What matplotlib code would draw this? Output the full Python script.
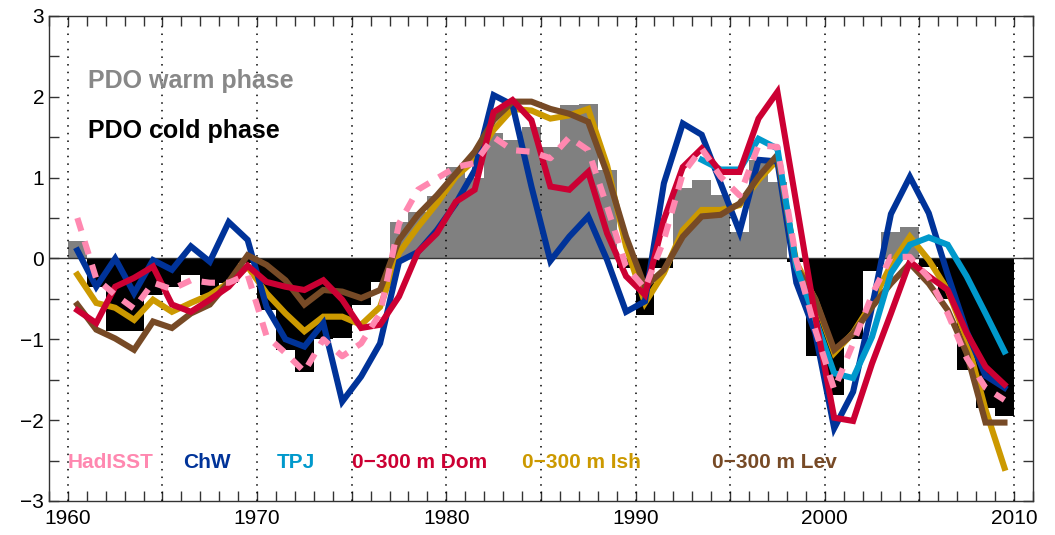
import numpy as np
import matplotlib
matplotlib.use("Agg")
import matplotlib.pyplot as plt
from matplotlib.ticker import MultipleLocator

matplotlib.rcParams['font.family'] = ['Liberation Sans', 'DejaVu Sans']

years = np.arange(1960, 2010)

# annual PDO index (bars)
pdo = [0.21, -0.35, -0.9, -0.9, -0.45, -0.35, -0.2, -0.45, -0.3, -0.05,
       -0.64, -1.13, -1.4, -1.0, -0.98, -0.57, -0.29, 0.45, 0.58, 0.77,
       1.13, 0.99, 1.55, 1.46, 1.63, 1.38, 1.9, 1.91, 1.09, -0.12,
       -0.7, -0.12, 0.87, 0.97, 0.78, 0.33, 1.22, 0.95, -0.04, -1.21,
       -1.69, -1.0, -0.16, 0.33, 0.39, -0.1, -0.5, -1.38, -1.85, -1.95]

hadisst = [0.5, -0.25, -0.45, -0.62, -0.3, -0.38, -0.27, -0.3, -0.3, -0.2,
           -0.96, -1.17, -1.4, -1.0, -1.21, -1.05, -0.68, 0.43, 0.85, 0.99,
           1.13, 1.18, 1.5, 1.34, 1.32, 1.24, 1.5, 1.34, 0.64, -0.1,
           -0.37, 0.23, 1.05, 1.36, 1.01, 0.78, 1.4, 1.38, -0.02, -0.88,
           -1.62, -1.05, -0.45, 0.02, 0.02, -0.24, -0.68, -1.23, -1.6, -1.75]

chw = [0.1, -0.35, 0.0, -0.43, -0.02, -0.14, 0.15, -0.04, 0.45, 0.23,
       -0.6, -1.0, -1.09, -0.8, -1.77, -1.46, -1.05, -0.04, 0.08, 0.35,
       0.68, 1.09, 2.02, 1.9, 0.89, -0.03, 0.27, 0.52, -0.02, -0.66,
       -0.53, 0.93, 1.67, 1.53, 0.93, 0.33, 1.22, 1.2, -0.3, -0.92,
       -2.1, -1.65, -0.6, 0.55, 1.01, 0.56, -0.2, -0.9, -1.45, -1.6]

tpj_years = np.arange(1993, 2010)
tpj = [1.22, 1.1, 1.1, 1.48, 1.36, -0.1, -0.75, -1.42, -1.48, -0.97,
       -0.18, 0.17, 0.26, 0.17, -0.22, -0.68, -1.15]

dom = [-0.64, -0.8, -0.35, -0.24, -0.1, -0.57, -0.66, -0.51, -0.35, -0.09,
       -0.29, -0.35, -0.39, -0.27, -0.51, -0.86, -0.82, -0.47, 0.08, 0.31,
       0.7, 0.85, 1.81, 1.96, 1.71, 0.89, 0.85, 1.07, 0.31, -0.22,
       -0.45, 0.48, 1.13, 1.36, 1.07, 1.07, 1.73, 2.06, 0.68, -0.72,
       -1.97, -2.01, -1.3, -0.68, -0.04, -0.22, -0.39, -0.92, -1.34, -1.56]

ish = [-0.2, -0.55, -0.61, -0.76, -0.51, -0.66, -0.55, -0.45, -0.3, -0.1,
       -0.43, -0.68, -0.9, -0.72, -0.72, -0.82, -0.6, 0.07, 0.39, 0.68,
       1.01, 1.22, 1.59, 1.85, 1.83, 1.73, 1.77, 1.85, 1.15, 0.15,
       -0.55, -0.18, 0.35, 0.6, 0.6, 0.66, 0.97, 1.22, -0.05, -0.51,
       -1.17, -0.92, -0.55, -0.08, 0.27, -0.02, -0.39, -1.0, -1.87, -2.59]

lev = [-0.57, -0.88, -0.99, -1.13, -0.78, -0.86, -0.68, -0.57, -0.29, 0.04,
       -0.08, -0.27, -0.57, -0.39, -0.41, -0.49, -0.39, 0.23, 0.54, 0.78,
       1.05, 1.32, 1.71, 1.94, 1.94, 1.85, 1.79, 1.69, 1.05, 0.27,
       -0.35, -0.14, 0.27, 0.52, 0.54, 0.68, 1.01, 1.28, -0.1, -0.5,
       -1.13, -0.93, -0.6, -0.31, -0.06, -0.31, -0.64, -1.17, -2.03, -2.03]

C_HAD = '#ff88b0'
C_CHW = '#003399'
C_TPJ = '#0099cc'
C_DOM = '#cc0033'
C_ISH = '#cc9900'
C_LEV = '#774a26'

fig = plt.figure(figsize=(10.55, 5.35), dpi=100)
ax = fig.add_axes([0.0464, 0.0636, 0.9326, 0.9066])

bar_colors = ['#808080' if v > 0 else 'black' for v in pdo]
ax.bar(years, pdo, width=1.0, align='edge', color=bar_colors, linewidth=0, zorder=1)

for x in range(1960, 2011, 5):
    ax.axvline(x, color='black', linestyle=(0, (1, 4)), linewidth=1.1, zorder=2)
ax.axhline(0, color='#333333', linewidth=1.0, zorder=2)

lw = 4.4
mid = years + 0.5
ax.plot(mid, ish, color=C_ISH, lw=lw, solid_joinstyle='miter', zorder=3)
ax.plot(mid, chw, color=C_CHW, lw=lw, solid_joinstyle='miter', zorder=4)
ax.plot(mid, lev, color=C_LEV, lw=lw, solid_joinstyle='miter', zorder=5)
ax.plot(tpj_years + 0.5, tpj, color=C_TPJ, lw=lw, solid_joinstyle='miter', zorder=6)
ax.plot(mid, dom, color=C_DOM, lw=lw, solid_joinstyle='miter', zorder=7)
ax.plot(mid, hadisst, color=C_HAD, lw=lw, linestyle=(0, (2.2, 1.8)), zorder=8)

ax.set_xlim(1959, 2011)
ax.set_ylim(-3, 3)
ax.xaxis.set_major_locator(MultipleLocator(10))
ax.xaxis.set_minor_locator(MultipleLocator(1))
ax.yaxis.set_major_locator(MultipleLocator(1))
ax.yaxis.set_minor_locator(MultipleLocator(0.5))
ax.tick_params(which='both', direction='in', top=True, right=True, length=7,
               width=1.0, color='#333333', labelsize=15)
ax.tick_params(axis='x', pad=6)
for s in ax.spines.values():
    s.set_color('#333333')
    s.set_linewidth(1.0)

ax.text(1961.05, 2.2, 'PDO warm phase', color='#888888', fontsize=18,
        fontweight='bold', va='center', ha='left')
ax.text(1961.05, 1.58, 'PDO cold phase', color='black', fontsize=18,
        fontweight='bold', va='center', ha='left')

labels = ['HadISST', 'ChW', 'TPJ', '0\u2212300 m Dom', '0\u2212300 m Ish', '0\u2212300 m Lev']
label_x = [1960.0, 1966.1, 1971.05, 1975.0, 1984.0, 1994.05]
label_c = [C_HAD, C_CHW, C_TPJ, C_DOM, C_ISH, C_LEV]
for t, x, c in zip(labels, label_x, label_c):
    ax.text(x, -2.52, t, color=c, fontsize=15, fontweight='bold', va='center', ha='left')

fig.savefig('out.png', dpi=100)
